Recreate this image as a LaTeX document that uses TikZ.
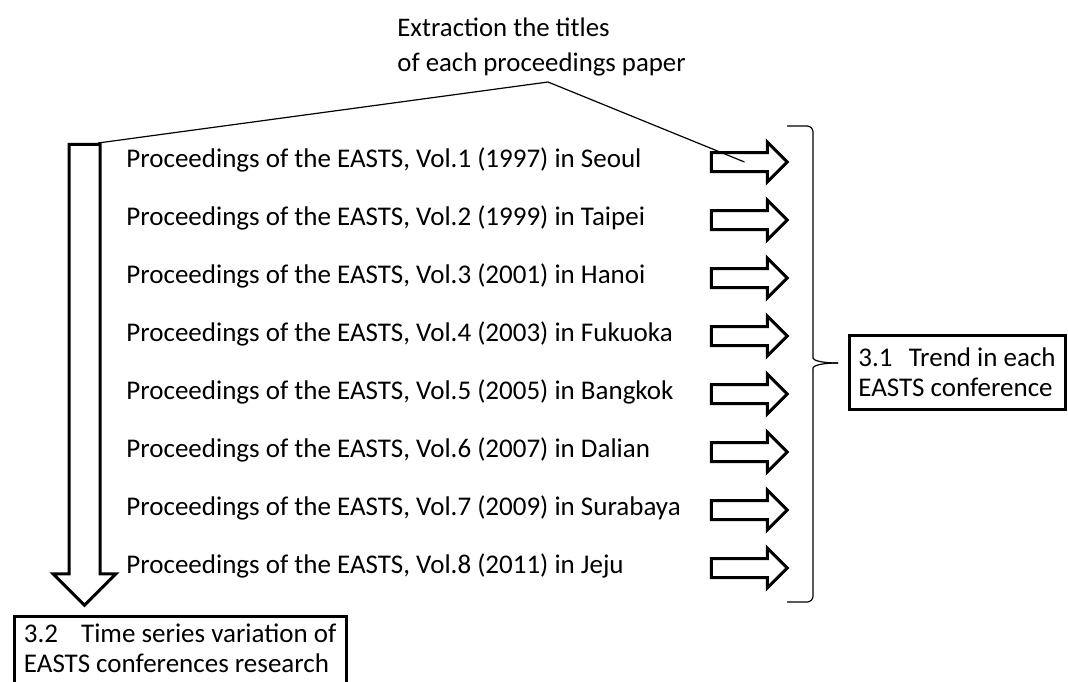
\documentclass[tikz,border=0pt]{standalone}
\usepackage{fontspec}
\setmainfont{Carlito}
\usetikzlibrary{shapes.arrows}

\begin{document}
\begin{tikzpicture}[
  x=0.5pt,y=-0.5pt,
  font=\fontsize{13.5}{15}\selectfont,
  txt/.style={anchor=west,inner sep=0pt},
  rarr/.style={single arrow,draw,line width=1.5pt,inner xsep=0pt,inner ysep=4pt,
    single arrow head extend=5.25pt,single arrow tip angle=90,minimum height=38pt},
  darr/.style={single arrow,draw,line width=1.5pt,inner xsep=0pt,inner ysep=7pt,
    single arrow head extend=8pt,single arrow tip angle=90,minimum height=230.5pt,rotate=-90},
  sbox/.style={draw,line width=1.5pt,align=left},
  lead/.style={line width=0.6pt}
]
  \clip (0,0) rectangle (1068,681);
  \node[anchor=north west,inner sep=0pt,align=left,font=\fontsize{13.4}{17.5}\selectfont]
    (extract) at (397,17) {Extraction the titles\\of each proceedings paper};
  \foreach \i/\yr/\city in {1/1997/Seoul,2/1999/Taipei,3/2001/Hanoi,4/2003/Fukuoka,
      5/2005/Bangkok,6/2007/Dalian,7/2009/Surabaya,8/2011/Jeju}
  {
    \node[txt] (row\i) at (126,{160+58*(\i-1)}) {Proceedings of the EASTS, Vol.\i{} (\yr) in \city};
    \node[rarr] (arr\i) at (744.5,{162+58*(\i-1)}) {};
  }
  \node[darr] (down) at (84.5,367) {};
  \coordinate (kink) at (548,82);
  \coordinate (shafttop) at (98,143);
  \draw[lead] (shafttop) -- (kink) -- (arr1.center);
  % brace round the arrows
  \coordinate (bracetip) at (838,363);
  \draw[lead,rounded corners=3pt] (787,126) -| (813,352) .. controls (813,360) and (820,363) .. (bracetip);
  \draw[lead,rounded corners=3pt] (787,602) -| (813,374) .. controls (813,366) and (820,363) .. (bracetip);
  \node[sbox,minimum width=108pt,minimum height=37pt] (trend) at (957,372.5)
    {3.1\hspace{0.6em}Trend in each\\EASTS conference};
  \node[sbox,anchor=north west,inner xsep=5pt,inner ysep=4pt,text depth=50pt]
    (series) at (12.5,614.5) {3.2\hspace{0.85em}Time series variation of\\EASTS conferences research};
\end{tikzpicture}
\end{document}
